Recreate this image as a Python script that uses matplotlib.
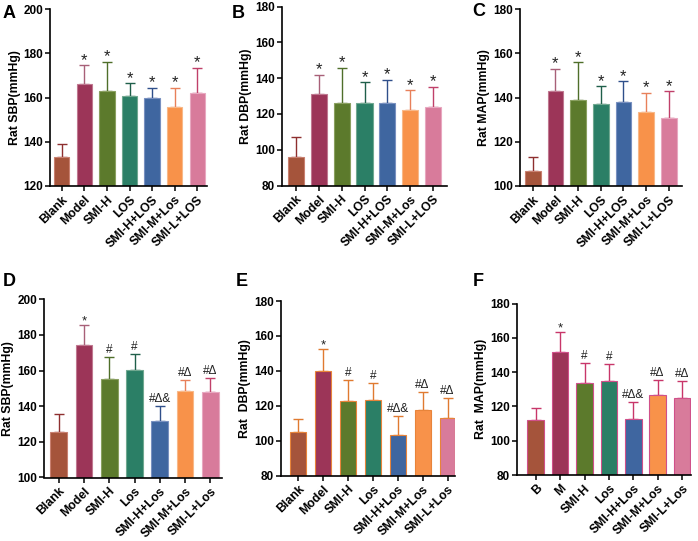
import matplotlib
matplotlib.use("Agg")
import matplotlib.pyplot as plt

plt.rcParams['font.family'] = ['Liberation Sans', 'DejaVu Sans']
plt.rcParams['font.weight'] = 'bold'

# ---------------- data ----------------
labels_top = ["Blank", "Model", "SMI-H", "LOS", "SMI-H+LOS", "SMI-M+Los", "SMI-L+LOS"]
labels_de = ["Blank", "Model", "SMI-H", "Los", "SMI-H+Los", "SMI-M+Los", "SMI-L+Los"]
labels_f = ["B", "M", "SMI-H", "Los", "SMI-H+Los", "SMI-M+Los", "SMI-L+Los"]

sbp_a = [133.0, 166.0, 163.0, 160.8, 159.6, 155.7, 162.0]
sbp_a_err = [6.1, 8.6, 13.2, 5.6, 4.9, 8.8, 11.4]
dbp_b = [95.9, 131.2, 126.2, 126.2, 126.2, 122.1, 123.9]
dbp_b_err = [11.4, 10.7, 19.4, 11.4, 12.7, 11.0, 11.2]
map_c = [106.9, 142.9, 139.0, 137.1, 137.8, 133.3, 130.9]
map_c_err = [6.4, 10.0, 16.9, 8.0, 9.5, 8.9, 11.9]
sbp_d = [125.8, 174.4, 155.5, 160.2, 131.8, 148.6, 148.0]
sbp_d_err = [10.1, 11.2, 12.0, 9.1, 8.4, 6.2, 8.0]
dbp_e = [104.8, 140.1, 122.7, 123.1, 103.3, 117.7, 113.2]
dbp_e_err = [7.5, 12.6, 11.8, 9.7, 10.7, 10.1, 11.3]
map_f = [112.0, 151.7, 133.8, 135.1, 112.6, 126.6, 124.9]
map_f_err = [7.0, 11.5, 11.6, 9.6, 9.7, 8.7, 9.9]

marks_top = ["", "*", "*", "*", "*", "*", "*"]
marks_bottom = ["", "*", "#", "#", "#Δ&", "#Δ", "#Δ"]

face_colors = ["#A5543B", "#9C3558", "#5C7A2C", "#2B7F66", "#3F66A0", "#F8924A", "#D87B9B"]
err_colors_a = ["#8E2F2F", "#A86078", "#4F6F2A", "#1F5F4A", "#2F4F8A", "#E8805A", "#C0406A"]
edge_colors_a = ["#C98070", "#C07890", "#8AA060", "#70A890", "#7890C0", "#F8B888", "#E8A8C0"]

W, H = 698, 541
fig = plt.figure(figsize=(W / 100, H / 100), dpi=100)


def make_ax(left, right, top, bottom):
    return fig.add_axes([left / W, 1 - bottom / H, (right - left) / W, (bottom - top) / H])


panels = [
    ("A", (50, 207, 9, 186), (-0.52, 6.43), (120, 200), [120, 140, 160, 180, 200],
     sbp_a, sbp_a_err, labels_top, "Rat SBP(mmHg)", marks_top, 0.68, edge_colors_a, err_colors_a, (3, 13)),
    ("B", (282, 447, 6.5, 185.5), (-0.6, 6.6), (80, 180), [80, 100, 120, 140, 160, 180],
     dbp_b, dbp_b_err, labels_top, "Rat DBP(mmHg)", marks_top, 0.70, edge_colors_a, err_colors_a, (232, 13)),
    ("C", (520, 682, 9, 186), (-0.56, 6.58), (100, 180), [100, 120, 140, 160, 180],
     map_c, map_c_err, labels_top, "Rat MAP(mmHg)", marks_top, 0.69, edge_colors_a, err_colors_a, (472, 12)),
    ("D", (44, 222, 299.3, 477.5), (-0.58, 6.46), (100, 200), [100, 120, 140, 160, 180, 200],
     sbp_d, sbp_d_err, labels_de, "Rat SBP(mmHg)", marks_bottom, 0.66, edge_colors_a, err_colors_a, (3, 281)),
    ("E", (281, 455, 301, 475.5), (-0.69, 6.3), (80, 180), [80, 100, 120, 140, 160, 180],
     dbp_e, dbp_e_err, labels_de, "Rat  DBP(mmHg)", marks_bottom, 0.64,
     ["#E8843A"] * 7, ["#E07A30"] * 7, (236, 282)),
    ("F", (517, 691, 303.5, 475), (-0.77, 6.37), (80, 180), [80, 100, 120, 140, 160, 180],
     map_f, map_f_err, labels_f, "Rat  MAP(mmHg)", marks_bottom, 0.68,
     ["#D0508A"] * 7, ["#C8366A"] * 7, (473, 282)),
]

for (letter, box, xlim, ylim, yticks, vals, errs, labs, ylab, marks, bw,
     edges, ecols, lpos) in panels:
    ax = make_ax(*box)
    x = list(range(len(vals)))
    ax.bar(x, vals, width=bw, color=face_colors, edgecolor=edges, linewidth=0.8,
           bottom=0, zorder=2)
    for i in x:
        ax.errorbar(i, vals[i], yerr=[[0], [errs[i]]], fmt='none', ecolor=ecols[i],
                    elinewidth=1.0, capsize=3.4, capthick=1.0, zorder=1)
        if marks[i]:
            star = marks[i] == "*"
            fs = 12 if (star and letter in "ABC") else (9.5 if star else 8.5)
            off = -0.014 if star else 0.006
            ax.text(i, vals[i] + errs[i] + (ylim[1] - ylim[0]) * off, marks[i],
                    ha='center', va='bottom', fontsize=fs, fontweight='normal',
                    color='#222222')
    ax.set_xlim(*xlim)
    ax.set_ylim(*ylim)
    ax.set_yticks(yticks)
    ax.set_xticks(x)
    ax.set_xticklabels(labs, rotation=45, ha='right', rotation_mode='anchor',
                       fontsize=8.8, fontweight='bold')
    ax.tick_params(axis='y', labelsize=8.5, width=1.1, length=3.5, pad=1.5)
    ax.tick_params(axis='x', width=1.1, length=3.5, pad=2)
    for lab in ax.get_yticklabels():
        lab.set_fontweight('bold')
    ax.spines['top'].set_visible(False)
    ax.spines['right'].set_visible(False)
    ax.spines['left'].set_linewidth(1.2)
    ax.spines['bottom'].set_linewidth(1.2)
    ax.set_ylabel(ylab, fontsize=8.8, fontweight='bold', labelpad=2)
    fig.text(lpos[0] / W, 1 - lpos[1] / H, letter, fontsize=13, fontweight='bold',
             ha='left', va='center')

fig.savefig("out.png", dpi=100)
